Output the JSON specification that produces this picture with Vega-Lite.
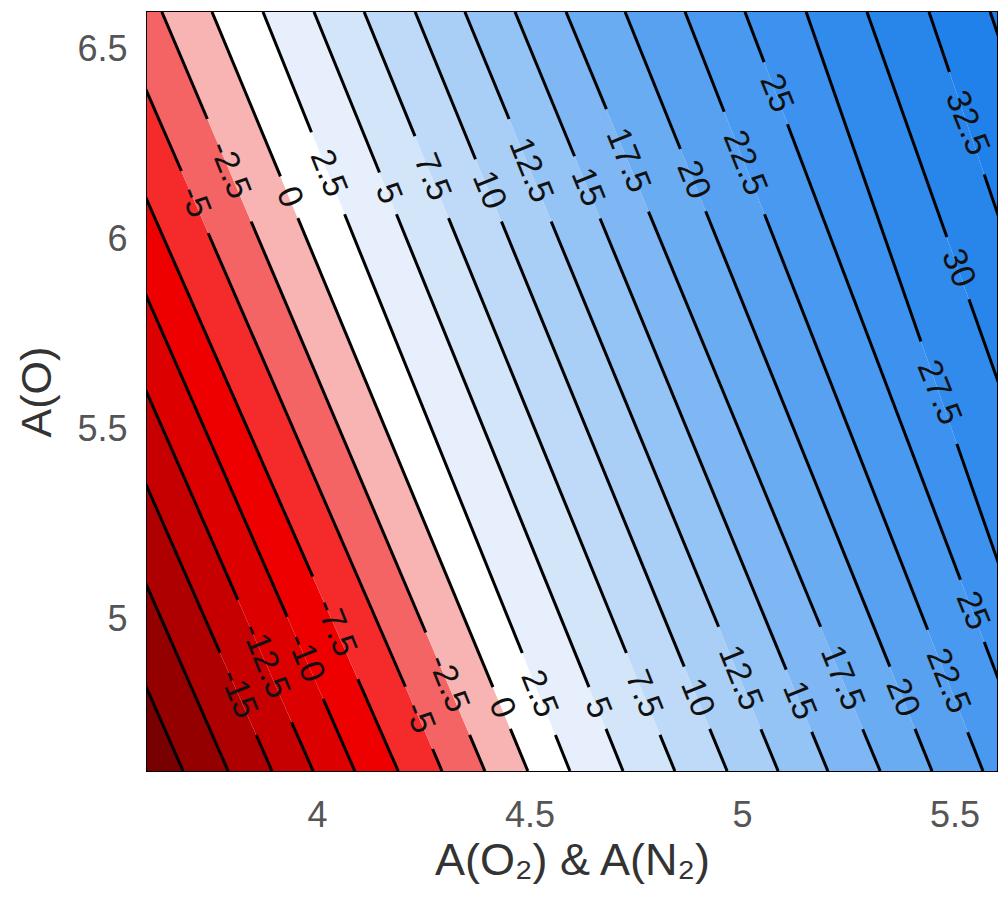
{
  "$schema": "https://vega.github.io/schema/vega-lite/v6.json",
  "width": 850,
  "height": 759,
  "autosize": {"type": "none"},
  "padding": {"left": 147, "top": 12, "right": 1, "bottom": 142},
  "background": "white",
  "config": {
    "view": {"stroke": "#000", "strokeWidth": 2},
    "font": "Liberation Sans",
    "axis": {
      "ticks": false,
      "domain": false,
      "grid": false,
      "labelFont": "Liberation Sans",
      "labelFontSize": 36,
      "labelColor": "#555555",
      "titleFont": "Liberation Sans",
      "titleFontSize": 43,
      "titleFontWeight": "normal",
      "titleColor": "#333333"
    }
  },
  "datasets": {
    "bands": [
      {"lo": -25, "y": 6.6, "x": 2.0, "x2": 2.799}, {"lo": -25, "y": 4.6, "x": 2.0, "x2": 3.584},
      {"lo": -22.5, "y": 6.6, "x": 2.799, "x2": 2.900}, {"lo": -22.5, "y": 4.6, "x": 3.584, "x2": 3.685},
      {"lo": -20, "y": 6.6, "x": 2.900, "x2": 3.006}, {"lo": -20, "y": 4.6, "x": 3.685, "x2": 3.791},
      {"lo": -17.5, "y": 6.6, "x": 3.006, "x2": 3.109}, {"lo": -17.5, "y": 4.6, "x": 3.791, "x2": 3.894},
      {"lo": -15, "y": 6.6, "x": 3.109, "x2": 3.206}, {"lo": -15, "y": 4.6, "x": 3.894, "x2": 3.991},
      {"lo": -12.5, "y": 6.6, "x": 3.206, "x2": 3.305}, {"lo": -12.5, "y": 4.6, "x": 3.991, "x2": 4.089},
      {"lo": -10, "y": 6.6, "x": 3.305, "x2": 3.405}, {"lo": -10, "y": 4.6, "x": 4.089, "x2": 4.191},
      {"lo": -7.5, "y": 6.6, "x": 3.405, "x2": 3.518}, {"lo": -7.5, "y": 4.6, "x": 4.191, "x2": 4.294},
      {"lo": -5, "y": 6.6, "x": 3.518, "x2": 3.635}, {"lo": -5, "y": 4.6, "x": 4.294, "x2": 4.395},
      {"lo": -2.5, "y": 6.6, "x": 3.635, "x2": 3.753}, {"lo": -2.5, "y": 4.6, "x": 4.395, "x2": 4.496},
      {"lo": 0, "y": 6.6, "x": 3.753, "x2": 3.873}, {"lo": 0, "y": 4.6, "x": 4.496, "x2": 4.595},
      {"lo": 2.5, "y": 6.6, "x": 3.873, "x2": 3.993}, {"lo": 2.5, "y": 4.6, "x": 4.595, "x2": 4.720},
      {"lo": 5, "y": 6.6, "x": 3.993, "x2": 4.111}, {"lo": 5, "y": 4.6, "x": 4.720, "x2": 4.842},
      {"lo": 7.5, "y": 6.6, "x": 4.111, "x2": 4.231}, {"lo": 7.5, "y": 4.6, "x": 4.842, "x2": 4.965},
      {"lo": 10, "y": 6.6, "x": 4.231, "x2": 4.348}, {"lo": 10, "y": 4.6, "x": 4.965, "x2": 5.085},
      {"lo": 12.5, "y": 6.6, "x": 4.348, "x2": 4.466}, {"lo": 12.5, "y": 4.6, "x": 5.085, "x2": 5.202},
      {"lo": 15, "y": 6.6, "x": 4.466, "x2": 4.586}, {"lo": 15, "y": 4.6, "x": 5.202, "x2": 5.325},
      {"lo": 17.5, "y": 6.6, "x": 4.586, "x2": 4.725}, {"lo": 17.5, "y": 4.6, "x": 5.325, "x2": 5.447},
      {"lo": 20, "y": 6.6, "x": 4.725, "x2": 4.866}, {"lo": 20, "y": 4.6, "x": 5.447, "x2": 5.567},
      {"lo": 22.5, "y": 6.6, "x": 4.866, "x2": 5.007}, {"lo": 22.5, "y": 4.6, "x": 5.567, "x2": 5.685},
      {"lo": 25, "y": 6.6, "x": 5.007, "x2": 5.151}, {"lo": 25, "y": 4.6, "x": 5.685, "x2": 5.774},
      {"lo": 27.5, "y": 6.6, "x": 5.151, "x2": 5.294}, {"lo": 27.5, "y": 4.6, "x": 5.774, "x2": 5.927},
      {"lo": 30, "y": 6.6, "x": 5.294, "x2": 5.440}, {"lo": 30, "y": 4.6, "x": 5.927, "x2": 6.047},
      {"lo": 32.5, "y": 6.6, "x": 5.440, "x2": 5.584}, {"lo": 32.5, "y": 4.6, "x": 6.047, "x2": 6.191},
      {"lo": 35, "y": 6.6, "x": 5.584, "x2": 7.0}, {"lo": 35, "y": 4.6, "x": 6.191, "x2": 7.0}
    ],
    "lines": [
      {"seg": "m22.5", "x": 2.799, "y": 6.6}, {"seg": "m22.5", "x": 3.584, "y": 4.6},
      {"seg": "m20", "x": 2.900, "y": 6.6}, {"seg": "m20", "x": 3.685, "y": 4.6},
      {"seg": "m17.5", "x": 3.006, "y": 6.6}, {"seg": "m17.5", "x": 3.791, "y": 4.6},
      {"seg": "m15a", "x": 3.109, "y": 6.6}, {"seg": "m15a", "x": 3.772, "y": 4.911},
      {"seg": "m15b", "x": 3.857, "y": 4.695}, {"seg": "m15b", "x": 3.894, "y": 4.6},
      {"seg": "m12.5a", "x": 3.206, "y": 6.6}, {"seg": "m12.5a", "x": 3.814, "y": 5.051},
      {"seg": "m12.5b", "x": 3.940, "y": 4.729}, {"seg": "m12.5b", "x": 3.991, "y": 4.6},
      {"seg": "m10a", "x": 3.305, "y": 6.6}, {"seg": "m10a", "x": 3.930, "y": 5.006},
      {"seg": "m10b", "x": 4.0145, "y": 4.790}, {"seg": "m10b", "x": 4.089, "y": 4.6},
      {"seg": "m7.5a", "x": 3.405, "y": 6.6}, {"seg": "m7.5a", "x": 3.990, "y": 5.112},
      {"seg": "m7.5b", "x": 4.096, "y": 4.842}, {"seg": "m7.5b", "x": 4.191, "y": 4.6},
      {"seg": "m5a", "x": 3.518, "y": 6.6}, {"seg": "m5a", "x": 3.681, "y": 6.181},
      {"seg": "m5b", "x": 3.744, "y": 6.017}, {"seg": "m5b", "x": 4.208, "y": 4.822},
      {"seg": "m5c", "x": 4.272, "y": 4.658}, {"seg": "m5c", "x": 4.294, "y": 4.6},
      {"seg": "m2.5a", "x": 3.635, "y": 6.6}, {"seg": "m2.5a", "x": 3.742, "y": 6.318},
      {"seg": "m2.5b", "x": 3.845, "y": 6.048}, {"seg": "m2.5b", "x": 4.256, "y": 4.965},
      {"seg": "m2.5c", "x": 4.359, "y": 4.695}, {"seg": "m2.5c", "x": 4.395, "y": 4.6},
      {"seg": "p0a", "x": 3.753, "y": 6.6}, {"seg": "p0a", "x": 3.914, "y": 6.167},
      {"seg": "p0b", "x": 3.955, "y": 6.057}, {"seg": "p0b", "x": 4.414, "y": 4.821},
      {"seg": "p0c", "x": 4.455, "y": 4.711}, {"seg": "p0c", "x": 4.496, "y": 4.6},
      {"seg": "p2.5a", "x": 3.873, "y": 6.6}, {"seg": "p2.5a", "x": 3.987, "y": 6.283},
      {"seg": "p2.5b", "x": 4.065, "y": 6.067}, {"seg": "p2.5b", "x": 4.483, "y": 4.911},
      {"seg": "p2.5c", "x": 4.561, "y": 4.695}, {"seg": "p2.5c", "x": 4.595, "y": 4.6},
      {"seg": "p5a", "x": 3.993, "y": 6.6}, {"seg": "p5a", "x": 4.147, "y": 6.177},
      {"seg": "p5b", "x": 4.187, "y": 6.067}, {"seg": "p5b", "x": 4.640, "y": 4.821},
      {"seg": "p5c", "x": 4.680, "y": 4.711}, {"seg": "p5c", "x": 4.720, "y": 4.6},
      {"seg": "p7.5a", "x": 4.111, "y": 6.6}, {"seg": "p7.5a", "x": 4.2305, "y": 6.273},
      {"seg": "p7.5b", "x": 4.3095, "y": 6.057}, {"seg": "p7.5b", "x": 4.728, "y": 4.911},
      {"seg": "p7.5c", "x": 4.807, "y": 4.695}, {"seg": "p7.5c", "x": 4.842, "y": 4.6},
      {"seg": "p10a", "x": 4.231, "y": 6.6}, {"seg": "p10a", "x": 4.373, "y": 6.212},
      {"seg": "p10b", "x": 4.434, "y": 6.048}, {"seg": "p10b", "x": 4.864, "y": 4.875},
      {"seg": "p10c", "x": 4.924, "y": 4.711}, {"seg": "p10c", "x": 4.965, "y": 4.6},
      {"seg": "p12.5a", "x": 4.348, "y": 6.6}, {"seg": "p12.5a", "x": 4.452, "y": 6.318},
      {"seg": "p12.5b", "x": 4.551, "y": 6.048}, {"seg": "p12.5b", "x": 4.945, "y": 4.980},
      {"seg": "p12.5c", "x": 5.0445, "y": 4.710}, {"seg": "p12.5c", "x": 5.085, "y": 4.6},
      {"seg": "p15a", "x": 4.466, "y": 6.6}, {"seg": "p15a", "x": 4.606, "y": 6.220},
      {"seg": "p15b", "x": 4.666, "y": 6.056}, {"seg": "p15b", "x": 5.104, "y": 4.867},
      {"seg": "p15c", "x": 5.164, "y": 4.703}, {"seg": "p15c", "x": 5.202, "y": 4.6},
      {"seg": "p17.5a", "x": 4.586, "y": 6.6}, {"seg": "p17.5a", "x": 4.681, "y": 6.344},
      {"seg": "p17.5b", "x": 4.780, "y": 6.074}, {"seg": "p17.5b", "x": 5.185, "y": 4.980},
      {"seg": "p17.5c", "x": 5.284, "y": 4.710}, {"seg": "p17.5c", "x": 5.325, "y": 4.6},
      {"seg": "p20a", "x": 4.725, "y": 6.6}, {"seg": "p20a", "x": 4.855, "y": 6.239},
      {"seg": "p20b", "x": 4.9145, "y": 6.075}, {"seg": "p20b", "x": 5.348, "y": 4.875},
      {"seg": "p20c", "x": 5.407, "y": 4.711}, {"seg": "p20c", "x": 5.447, "y": 4.6},
      {"seg": "p22.5a", "x": 4.866, "y": 6.6}, {"seg": "p22.5a", "x": 4.958, "y": 6.337},
      {"seg": "p22.5b", "x": 5.053, "y": 6.067}, {"seg": "p22.5b", "x": 5.437, "y": 4.972},
      {"seg": "p22.5c", "x": 5.531, "y": 4.702}, {"seg": "p22.5c", "x": 5.567, "y": 4.6},
      {"seg": "p25a", "x": 5.007, "y": 6.6}, {"seg": "p25a", "x": 5.052, "y": 6.468},
      {"seg": "p25b", "x": 5.107, "y": 6.304}, {"seg": "p25b", "x": 5.514, "y": 5.104},
      {"seg": "p25c", "x": 5.570, "y": 4.940}, {"seg": "p25c", "x": 5.685, "y": 4.6},
      {"seg": "p27.5a", "x": 5.151, "y": 6.6}, {"seg": "p27.5a", "x": 5.421, "y": 5.732},
      {"seg": "p27.5b", "x": 5.5055, "y": 5.462}, {"seg": "p27.5b", "x": 5.774, "y": 4.6},
      {"seg": "p30a", "x": 5.294, "y": 6.6}, {"seg": "p30a", "x": 5.482, "y": 6.007},
      {"seg": "p30b", "x": 5.534, "y": 5.843}, {"seg": "p30b", "x": 5.927, "y": 4.6},
      {"seg": "p32.5a", "x": 5.440, "y": 6.6}, {"seg": "p32.5a", "x": 5.488, "y": 6.442},
      {"seg": "p32.5b", "x": 5.570, "y": 6.172}, {"seg": "p32.5b", "x": 6.047, "y": 4.6},
      {"seg": "p35", "x": 5.584, "y": 6.6}, {"seg": "p35", "x": 6.191, "y": 4.6}
    ],
    "labels": [
      {"t": "-5", "x": 3.712, "y": 6.099},
      {"t": "-2.5", "x": 3.794, "y": 6.183},
      {"t": "0", "x": 3.934, "y": 6.112},
      {"t": "2.5", "x": 4.026, "y": 6.175},
      {"t": "5", "x": 4.167, "y": 6.122},
      {"t": "7.5", "x": 4.270, "y": 6.165},
      {"t": "10", "x": 4.404, "y": 6.130},
      {"t": "12.5", "x": 4.502, "y": 6.183},
      {"t": "15", "x": 4.636, "y": 6.138},
      {"t": "17.5", "x": 4.731, "y": 6.209},
      {"t": "20", "x": 4.885, "y": 6.157},
      {"t": "22.5", "x": 5.006, "y": 6.202},
      {"t": "25", "x": 5.080, "y": 6.386},
      {"t": "32.5", "x": 5.529, "y": 6.307},
      {"t": "30", "x": 5.508, "y": 5.925},
      {"t": "27.5", "x": 5.463, "y": 5.597},
      {"t": "25", "x": 5.542, "y": 5.022},
      {"t": "22.5", "x": 5.484, "y": 4.837},
      {"t": "20", "x": 5.377, "y": 4.793},
      {"t": "17.5", "x": 5.235, "y": 4.845},
      {"t": "15", "x": 5.134, "y": 4.785},
      {"t": "12.5", "x": 4.995, "y": 4.845},
      {"t": "10", "x": 4.894, "y": 4.793},
      {"t": "7.5", "x": 4.768, "y": 4.803},
      {"t": "5", "x": 4.660, "y": 4.766},
      {"t": "2.5", "x": 4.522, "y": 4.803},
      {"t": "0", "x": 4.434, "y": 4.766},
      {"t": "-2.5", "x": 4.308, "y": 4.830},
      {"t": "-5", "x": 4.240, "y": 4.740},
      {"t": "-7.5", "x": 4.043, "y": 4.977},
      {"t": "-10", "x": 3.972, "y": 4.898},
      {"t": "-12.5", "x": 3.877, "y": 4.890},
      {"t": "-15", "x": 3.814, "y": 4.803}
    ]
  },
  "encoding": {
    "x": {"field": "x", "type": "quantitative",
          "scale": {"domain": [3.6, 5.6], "nice": false, "zero": false},
          "axis": {"values": [4, 4.5, 5, 5.5], "format": "~g", "labelPadding": 27, "title": "A(O₂) & A(N₂)", "titleFontSize": 45, "titlePadding": 5}},
    "y": {"field": "y", "type": "quantitative",
          "scale": {"domain": [4.6, 6.6], "nice": false, "zero": false},
          "axis": {"values": [5, 5.5, 6, 6.5], "format": "~g", "labelPadding": 20, "title": "A(O)", "titlePadding": 17}}
  },
  "layer": [
    {
      "data": {"name": "bands"},
      "mark": {"type": "area", "orient": "horizontal", "clip": true},
      "encoding": {
        "x2": {"field": "x2"},
        "detail": {"field": "lo", "type": "nominal"},
        "color": {"field": "lo", "type": "quantitative", "legend": null,
                  "scale": {"domain": [-25, -22.5, -20, -17.5, -15, -12.5, -10, -7.5, -5, -2.5, 0, 2.5, 5, 7.5, 10, 12.5, 15, 17.5, 20, 22.5, 25, 27.5, 30, 32.5, 35],
                            "range": ["#5c0000", "#780000", "#940000", "#ae0000", "#c60000", "#dc0000", "#ee0000", "#f52a2a", "#f46464", "#f8b3b3", "#ffffff", "#e6effb", "#d2e5f9", "#bfdaf8", "#aacff7", "#94c3f5", "#7eb7f4", "#69acf2", "#57a1f0", "#4899ef", "#3c92ee", "#318bec", "#2886eb", "#2081ea", "#1a7ce8"],
                            "interpolate": "rgb", "clamp": true}}
      }
    },
    {
      "data": {"name": "lines"},
      "mark": {"type": "line", "color": "#000000", "strokeWidth": 3, "clip": true},
      "encoding": {
        "detail": {"field": "seg", "type": "nominal"}
      }
    },
    {
      "data": {"name": "labels"},
      "mark": {"type": "text", "angle": 68, "fontSize": 34, "font": "Liberation Sans", "color": "#111111", "align": "center", "baseline": "middle"},
      "encoding": {
        "text": {"field": "t", "type": "nominal"}
      }
    }
  ]
}
